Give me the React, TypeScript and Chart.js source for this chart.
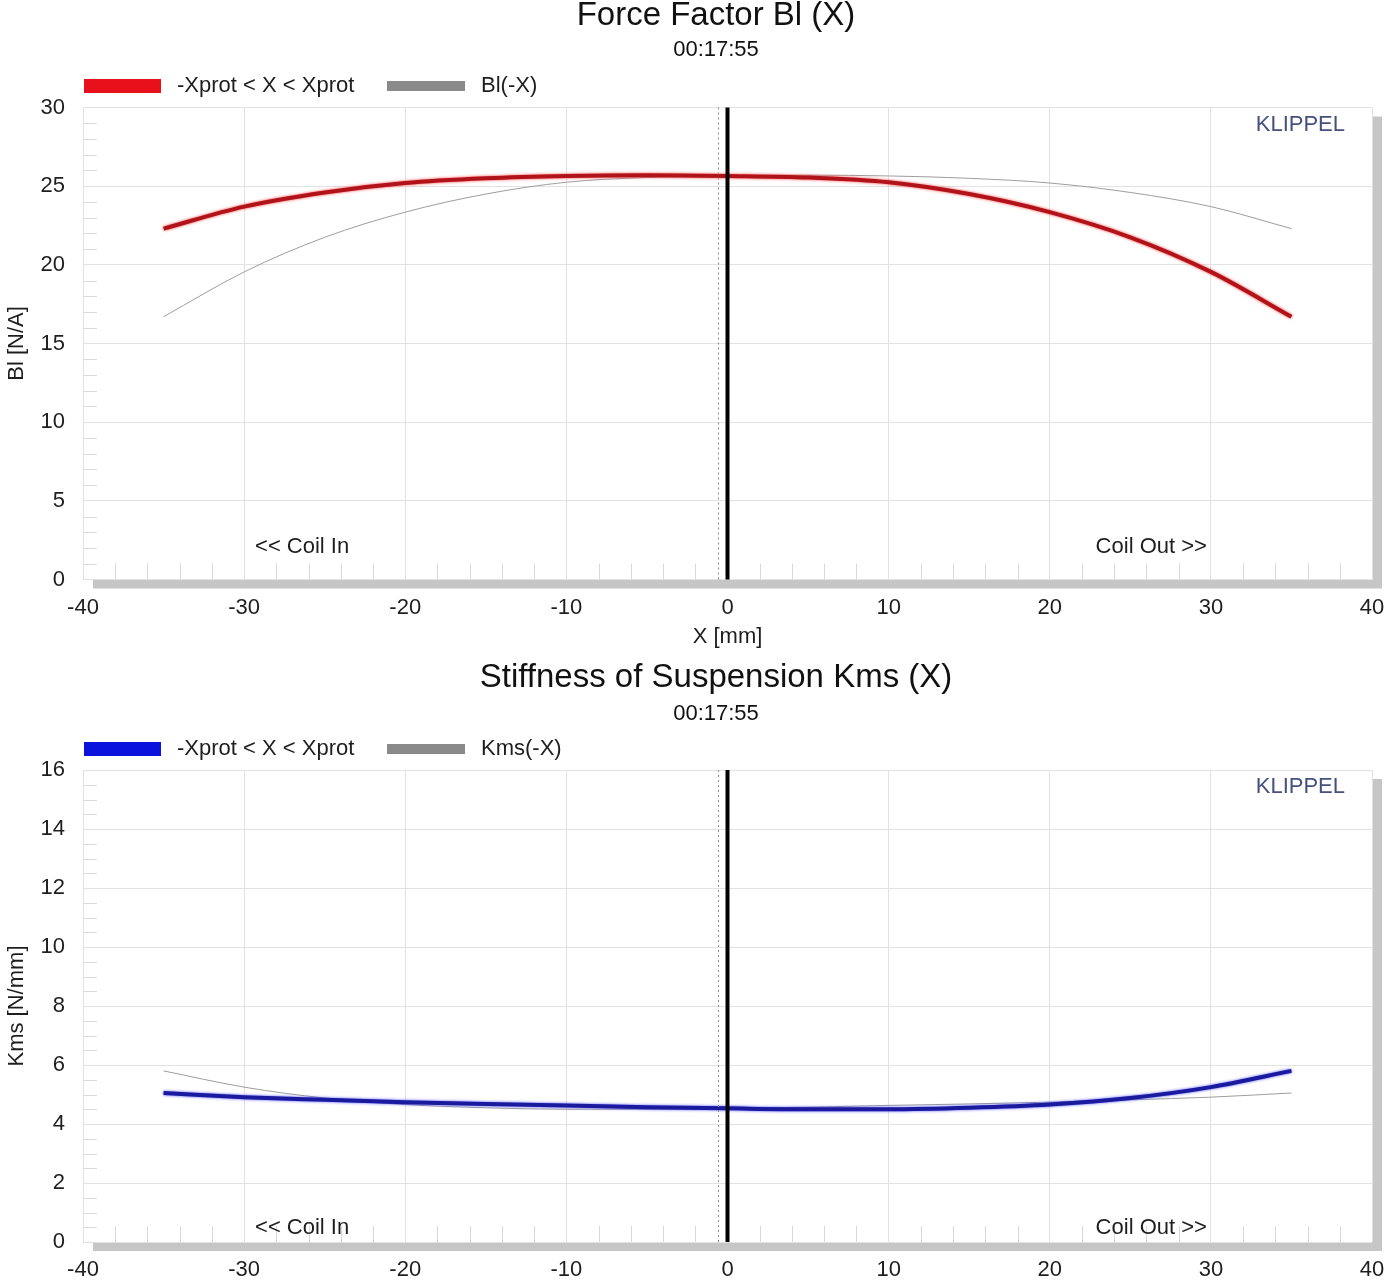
import React, { useEffect, useRef } from 'react';
import { Chart, registerables } from 'chart.js';

Chart.register(...registerables);

// ---- data ----
const X_POS = [-35, -30, -25, -20, -15, -10, -5, 0, 5, 10, 15, 20, 25, 30, 35];
const BL_PROT = [22.3, 23.7, 24.6, 25.2, 25.5, 25.65, 25.7, 25.65, 25.55, 25.25, 24.5, 23.35, 21.75, 19.55, 16.7];
const BL_MIRROR = [16.7, 19.55, 21.75, 23.35, 24.5, 25.25, 25.55, 25.65, 25.7, 25.65, 25.5, 25.2, 24.6, 23.7, 22.3];
const KMS_PROT = [5.05, 4.91, 4.82, 4.74, 4.68, 4.63, 4.57, 4.53, 4.5, 4.5, 4.55, 4.66, 4.88, 5.25, 5.8];
const KMS_MIRROR = [5.8, 5.25, 4.88, 4.66, 4.55, 4.5, 4.5, 4.53, 4.57, 4.63, 4.68, 4.74, 4.82, 4.91, 5.05];

const X_TICKS = [-40, -30, -20, -10, 0, 10, 20, 30, 40];
const BL_TICKS = [0, 5, 10, 15, 20, 25, 30];
const KMS_TICKS = [0, 2, 4, 6, 8, 10, 12, 14, 16];

const X_MINOR_STEP = 2;
const BL_MINOR_STEP = 1;
const KMS_MINOR_STEP = 0.5;
const REST_POSITION = -0.6;

const FONT = "'Liberation Sans', Arial, sans-serif";
const TEXT = '#1e1e1e';

type Spec = {
  title: string;
  subtitle: string;
  legend: [string, string];
  main: number[];
  mirror: number[];
  yTicks: number[];
  yMinor: number;
  yTitle: string;
  xTitle: string | null;
  lineColor: string;
  glowColor: string;
  legendColor: string;
  canvasHeight: number;
  areaTop: number;
  xAxisHeight: number;
  titleY: number;
  subY: number;
  legendY: number;
  coilOffset: number;
};

function makeDecor(s: Spec) {
  return {
    id: 'decor',
    beforeDraw(chart: any) {
      const { ctx, chartArea: a } = chart;
      ctx.save();
      ctx.fillStyle = '#ffffff';
      ctx.fillRect(0, 0, chart.width, chart.height);
      ctx.fillStyle = '#c6c6c6';
      ctx.fillRect(a.left + 10, a.top + 9, a.right - a.left, a.bottom - a.top);
      ctx.fillStyle = '#ffffff';
      ctx.fillRect(a.left, a.top, a.right - a.left, a.bottom - a.top);
      ctx.restore();
    },
    beforeDatasetsDraw(chart: any) {
      const { ctx, chartArea: a, scales } = chart;
      const xs = scales.x;
      const ys = scales.y;
      ctx.save();
      ctx.strokeStyle = '#d9d9d9';
      ctx.lineWidth = 1;
      ctx.beginPath();
      for (let v = X_TICKS[0]; v <= X_TICKS[X_TICKS.length - 1]; v += X_MINOR_STEP) {
        if (X_TICKS.includes(v)) continue;
        const px = Math.round(xs.getPixelForValue(v)) + 0.5;
        ctx.moveTo(px, a.bottom);
        ctx.lineTo(px, a.bottom - 16);
      }
      const yMax = s.yTicks[s.yTicks.length - 1];
      for (let v = 0; v <= yMax + 1e-9; v += s.yMinor) {
        if (s.yTicks.some((t) => Math.abs(t - v) < 1e-6)) continue;
        const py = Math.round(ys.getPixelForValue(v)) + 0.5;
        ctx.moveTo(a.left, py);
        ctx.lineTo(a.left + 14, py);
      }
      ctx.stroke();
      ctx.restore();
    },
    beforeDatasetDraw(chart: any, args: any) {
      if (args.index === 0) {
        const ctx = chart.ctx;
        ctx.save();
        ctx.shadowColor = s.glowColor;
        ctx.shadowBlur = 3;
      }
    },
    afterDatasetDraw(chart: any, args: any) {
      if (args.index === 0) chart.ctx.restore();
    },
    afterDatasetsDraw(chart: any) {
      const { ctx, chartArea: a, scales } = chart;
      const xs = scales.x;
      ctx.save();
      const dx = Math.round(xs.getPixelForValue(REST_POSITION)) + 0.5;
      ctx.strokeStyle = '#8c8c8c';
      ctx.lineWidth = 1;
      ctx.setLineDash([2, 3]);
      ctx.beginPath();
      ctx.moveTo(dx, a.top);
      ctx.lineTo(dx, a.bottom);
      ctx.stroke();
      ctx.setLineDash([]);
      const zx = xs.getPixelForValue(0);
      ctx.strokeStyle = '#000000';
      ctx.lineWidth = 4;
      ctx.beginPath();
      ctx.moveTo(zx, a.top);
      ctx.lineTo(zx, a.bottom);
      ctx.stroke();
      ctx.restore();
    },
    afterDraw(chart: any) {
      const { ctx, chartArea: a, scales } = chart;
      const xs = scales.x;
      ctx.save();
      ctx.fillStyle = '#111111';
      ctx.textAlign = 'center';
      ctx.textBaseline = 'middle';
      ctx.font = `33px ${FONT}`;
      ctx.fillText(s.title, 716, s.titleY);
      ctx.font = `22px ${FONT}`;
      ctx.fillText(s.subtitle, 716, s.subY);

      // legend
      ctx.font = `22px ${FONT}`;
      ctx.textAlign = 'left';
      ctx.fillStyle = s.legendColor;
      ctx.fillRect(84, s.legendY - 7, 77, 14);
      ctx.fillStyle = TEXT;
      ctx.fillText(s.legend[0], 177, s.legendY);
      ctx.fillStyle = '#8a8a8a';
      ctx.fillRect(387, s.legendY - 5, 78, 10);
      ctx.fillStyle = TEXT;
      ctx.fillText(s.legend[1], 481, s.legendY);

      // KLIPPEL
      ctx.font = `22px ${FONT}`;
      ctx.fillStyle = '#46507c';
      ctx.textAlign = 'right';
      ctx.fillText('KLIPPEL', a.right - 27, a.top + 17);

      // coil direction labels
      ctx.fillStyle = TEXT;
      ctx.textAlign = 'center';
      ctx.fillText('<< Coil In', xs.getPixelForValue(-26.4), a.bottom - s.coilOffset);
      ctx.fillText('Coil Out >>', xs.getPixelForValue(26.3), a.bottom - s.coilOffset);
      ctx.restore();
    },
  };
}

function buildConfig(s: Spec): any {
  const tickFont = { family: FONT, size: 22 };
  return {
    type: 'line',
    data: {
      datasets: [
        {
          label: s.legend[0],
          data: X_POS.map((x, i) => ({ x, y: s.main[i] })),
          borderColor: s.lineColor,
          borderWidth: 4,
          pointRadius: 0,
          fill: false,
          cubicInterpolationMode: 'monotone',
        },
        {
          label: s.legend[1],
          data: X_POS.map((x, i) => ({ x, y: s.mirror[i] })),
          borderColor: '#9e9e9e',
          borderWidth: 1,
          pointRadius: 0,
          fill: false,
          cubicInterpolationMode: 'monotone',
        },
      ],
    },
    options: {
      responsive: false,
      animation: false,
      events: [],
      layout: { padding: { top: s.areaTop, right: 20, left: 0, bottom: 0 } },
      plugins: {
        legend: { display: false },
        title: { display: false },
        tooltip: { enabled: false },
      },
      scales: {
        x: {
          type: 'linear',
          min: X_TICKS[0],
          max: X_TICKS[X_TICKS.length - 1],
          afterBuildTicks: (sc: any) => {
            sc.ticks = X_TICKS.map((v) => ({ value: v }));
          },
          afterFit: (sc: any) => {
            sc.height = s.xAxisHeight;
            sc.paddingLeft = 0;
            sc.paddingRight = 0;
          },
          ticks: { font: tickFont, color: TEXT, padding: 15, maxRotation: 0, autoSkip: false },
          grid: { color: '#e2e2e2', drawTicks: false, lineWidth: 1 },
          border: { display: false },
          title: s.xTitle
            ? { display: true, text: s.xTitle, font: tickFont, color: TEXT, padding: { top: 0, bottom: 0 } }
            : { display: false },
        },
        y: {
          type: 'linear',
          min: s.yTicks[0],
          max: s.yTicks[s.yTicks.length - 1],
          afterBuildTicks: (sc: any) => {
            sc.ticks = s.yTicks.map((v) => ({ value: v }));
          },
          afterFit: (sc: any) => {
            sc.width = 83;
            sc.paddingTop = 0;
            sc.paddingBottom = 0;
          },
          ticks: { font: tickFont, color: TEXT, padding: 18, autoSkip: false },
          grid: { color: '#e2e2e2', drawTicks: false, lineWidth: 1 },
          border: { display: false },
          title: { display: true, text: s.yTitle, font: { family: FONT, size: 22 }, color: TEXT, padding: { top: 4, bottom: 0 } },
        },
      },
    },
    plugins: [makeDecor(s)],
  };
}

const BL_SPEC: Spec = {
  title: 'Force Factor Bl (X)',
  subtitle: '00:17:55',
  legend: ['-Xprot < X < Xprot', 'Bl(-X)'],
  main: BL_PROT,
  mirror: BL_MIRROR,
  yTicks: BL_TICKS,
  yMinor: BL_MINOR_STEP,
  yTitle: 'Bl [N/A]',
  xTitle: 'X [mm]',
  lineColor: '#b0141a',
  glowColor: 'rgba(255,20,20,0.8)',
  legendColor: '#e8101a',
  canvasHeight: 650,
  areaTop: 107.5,
  xAxisHeight: 70.5,
  titleY: 16,
  subY: 50,
  legendY: 86,
  coilOffset: 32.5,
};

const KMS_SPEC: Spec = {
  title: 'Stiffness of Suspension Kms (X)',
  subtitle: '00:17:55',
  legend: ['-Xprot < X < Xprot', 'Kms(-X)'],
  main: KMS_PROT,
  mirror: KMS_MIRROR,
  yTicks: KMS_TICKS,
  yMinor: KMS_MINOR_STEP,
  yTitle: 'Kms [N/mm]',
  xTitle: null,
  lineColor: '#1a1a9e',
  glowColor: 'rgba(40,40,255,0.8)',
  legendColor: '#0a12dc',
  canvasHeight: 632,
  areaTop: 120,
  xAxisHeight: 40,
  titleY: 28,
  subY: 64,
  legendY: 99,
  coilOffset: 14,
};

function Panel({ spec }: { spec: Spec }) {
  const ref = useRef<HTMLCanvasElement>(null);
  useEffect(() => {
    const chart = new Chart(ref.current as HTMLCanvasElement, buildConfig(spec));
    return () => chart.destroy();
  }, [spec]);
  return (
    <canvas
      ref={ref}
      width={1392}
      height={spec.canvasHeight}
      style={{ display: 'block', width: 1392, height: spec.canvasHeight }}
    />
  );
}

export default function App() {
  return (
    <div style={{ position: 'absolute', left: 0, top: 0, width: 1392, height: 1282, background: '#fff', overflow: 'hidden' }}>
      <Panel spec={BL_SPEC} />
      <Panel spec={KMS_SPEC} />
    </div>
  );
}
